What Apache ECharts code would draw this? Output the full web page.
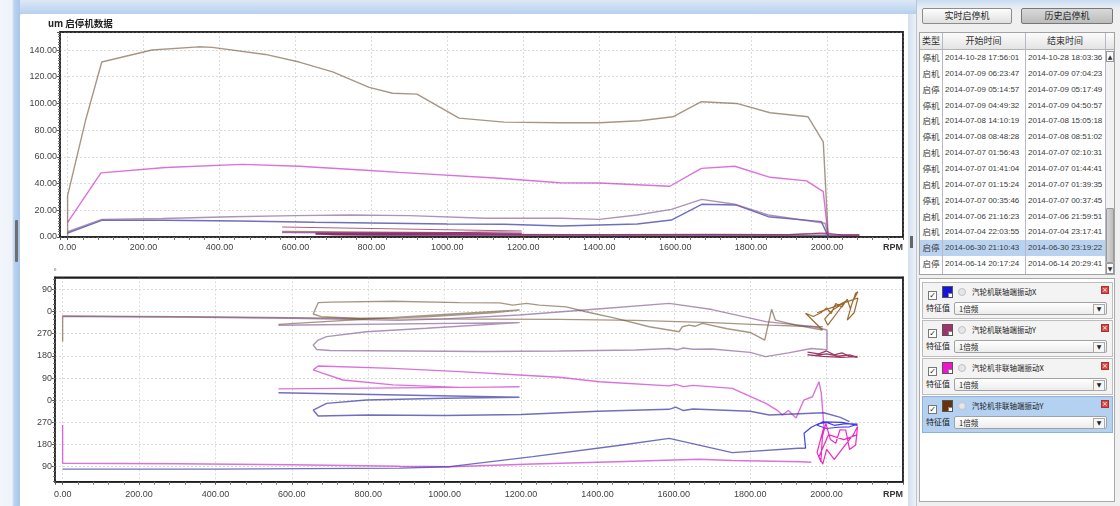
<!DOCTYPE html>
<html>
<head>
<meta charset="utf-8">
<script src="https://cdn.jsdelivr.net/npm/echarts@6/dist/echarts.min.js"></script>
<style>
  html, body { margin: 0; padding: 0; }
  body { width: 1120px; height: 506px; overflow: hidden; position: relative; background: #eaf1f9;
         font-family: "Noto Sans CJK SC", "Liberation Sans", sans-serif; color: #333; }
  .abs { position: absolute; box-sizing: border-box; }
  #topbar { left: 0; top: 0; width: 1120px; height: 14px; background: linear-gradient(#dce8f6, #b7d0ee); }
  #leftbar { left: 0; top: 0; width: 20px; height: 506px;
             background: linear-gradient(to right, #f2f6fb 0, #eef3fa 12px, #b9d2ef 14px, #a9c7ea 20px); }
  #lefthandle { left: 15px; top: 220px; width: 3px; height: 42px; background: #6f6f6f; border-radius: 1px; }
  #main { left: 20px; top: 14px; width: 888px; height: 492px; background: #fff; border-top-left-radius: 4px; }
  #chart { position: absolute; left: 0; top: 0; width: 888px; height: 492px; }
  #splitter { left: 908px; top: 14px; width: 8px; height: 492px; background: linear-gradient(to right, #d3e0ef, #edf2f8); }
  #splithandle { left: 910px; top: 236px; width: 3px; height: 12px; background: #666; }
  #side { left: 916px; top: 0; width: 204px; height: 506px; border-left: 1px solid #b9c6d6;
          background: linear-gradient(#c9dcf2 0, #e6ecf4 7px, #f0f0f0 12px, #f0f0f0 100%); }
  .btn { height: 16px; top: 8px; border: 1px solid #8c8c8c; border-radius: 2px; font-size: 9px; line-height: 14px;
         text-align: center; color: #222; }
  #tbl { left: 919px; top: 32px; width: 196px; height: 243px; border: 1px solid #a3a3a3; background: #fff; overflow: hidden; }
  .hd { top: 0; height: 17px; background: linear-gradient(#fbfbfb, #e4e4e4); border-bottom: 1px solid #b3b3b3;
        font-size: 9px; line-height: 16px; text-align: center; color: #333; }
  .cell { height: 15.85px; font-size: 8px; line-height: 15.85px; color: #3a3a3a; white-space: nowrap;
          font-family: "Liberation Sans", "Noto Sans CJK SC", sans-serif; }
  .ty { font-family: "Noto Sans CJK SC", sans-serif; font-size: 8.5px; text-align: center; }
  .vsep { top: 0; width: 1px; height: 243px; background: #b9b9c6; }
  #cards { left: 919px; top: 278px; width: 196px; height: 224px; border: 1px solid #a9a9a9; background: #fff; }
  .card { left: 2px; width: 191px; height: 37px; border: 1px solid #bdbdbd; background: #f3f3f3; }
  .card.sel { background: #b4d1f2; border-color: #8fb1d9; }
  .chk { left: 5px; top: 8px; width: 9px; height: 9px; border: 1px solid #777; background: #fff;
         font-size: 8px; line-height: 7px; text-align: center; color: #222; font-family: "DejaVu Sans", sans-serif; }
  .sw { left: 19px; top: 3px; width: 11px; height: 12px; border: 1px solid #555; }
  .sw i { position: absolute; right: 0; bottom: 0; width: 3px; height: 3px; background: #fff; border-left: 1px solid #888; border-top: 1px solid #888; }
  .gear { left: 35px; top: 5px; width: 8px; height: 8px; border-radius: 50%; border: 1.5px solid #c2c2c2; background: #e6e6e6; }
  .lbl { left: 49px; top: 3px; font-size: 7.5px; line-height: 12px; color: #222; white-space: nowrap; }
  .cls { right: 3px; top: 3px; width: 8px; height: 8px; background: #d8463f; border: 1px solid #a33; color: #fff;
         font-size: 7px; line-height: 6px; text-align: center; font-family: "DejaVu Sans", sans-serif; }
  .fk { left: 3px; top: 19px; font-size: 8px; line-height: 12px; color: #222; white-space: nowrap; }
  .dd { left: 31px; top: 19px; width: 153px; height: 13px; border: 1px solid #a2a2a2; border-radius: 2px;
        background: linear-gradient(#ffffff, #ececec); font-size: 7.5px; line-height: 11px; padding-left: 4px; color: #222; }
  .dd b { position: absolute; right: 1px; top: 1px; width: 10px; height: 9px; border: 1px solid #aaa; background: #f6f6f6;
          font-size: 6px; line-height: 8px; text-align: center; font-weight: normal; font-family: "DejaVu Sans", sans-serif; }
</style>
</head>
<body>
<div id="topbar" class="abs"></div>
<div id="leftbar" class="abs"></div>
<div id="lefthandle" class="abs"></div>
<div id="main" class="abs"><div id="chart"></div></div>
<div id="splitter" class="abs"></div>
<div id="splithandle" class="abs"></div>
<div id="side" class="abs"></div>
<div class="abs btn" style="left:922px;width:90px;background:linear-gradient(#fdfdfd,#e0e0e0);">实时启停机</div>
<div class="abs btn" style="left:1021px;width:92px;background:linear-gradient(#d9d9d9,#bcbcbc);border-color:#777;">历史启停机</div>
<div id="tbl" class="abs"></div>
<div id="cards" class="abs"></div>
<script>
// ---- event list ----
const eventTypes = ['停机', '启机', '启停', '停机', '启机', '停机', '启机', '停机', '启机', '停机', '启机', '启机', '启停', '启停'];
const eventStarts = ['2014-10-28 17:56:01', '2014-07-09 06:23:47', '2014-07-09 05:14:57', '2014-07-09 04:49:32',
  '2014-07-08 14:10:19', '2014-07-08 08:48:28', '2014-07-07 01:56:43', '2014-07-07 01:41:04', '2014-07-07 01:15:24',
  '2014-07-07 00:35:46', '2014-07-06 21:16:23', '2014-07-04 22:03:55', '2014-06-30 21:10:43', '2014-06-14 20:17:24'];
const eventEnds = ['2014-10-28 18:03:36', '2014-07-09 07:04:23', '2014-07-09 05:17:49', '2014-07-09 04:50:57',
  '2014-07-08 15:05:18', '2014-07-08 08:51:02', '2014-07-07 02:10:31', '2014-07-07 01:44:41', '2014-07-07 01:39:35',
  '2014-07-07 00:37:45', '2014-07-06 21:59:51', '2014-07-04 23:17:41', '2014-06-30 23:19:22', '2014-06-14 20:29:41'];
const selectedEvent = 12;

// ---- measuring channels ----
const channelNames = ['汽轮机联轴端振动X', '汽轮机联轴端振动Y', '汽轮机非联轴端振动X', '汽轮机非联轴端振动Y'];
const channelSwatch = ['#1414dc', '#a3326c', '#ee14d2', '#6b300c'];
const channelFeature = ['1倍频', '1倍频', '1倍频', '1倍频'];

// ---- amplitude (um) against speed (RPM) ----
const ampRunX = [[0,3],[90,12.5],[250,12.5],[450,12],[650,11],[800,10.5],[1000,9.7],[1150,9.5],[1300,8.2],[1500,9.7],[1590,12.7],[1670,24.5],[1760,24],[1845,15.2],[1985,11.5],[2003,0.5]];
const ampRunY = [[0,4],[90,13.2],[250,13.8],[433,15.2],[600,16],[741,16.5],[900,16],[1100,14],[1300,14],[1400,13.2],[1500,16.5],[1590,20.7],[1670,28.2],[1757,24.5],[1845,16.5],[1950,12.2],[1995,10.3],[2003,0.5]];
const ampRunNX = [[0,11],[88,48],[258,52],[460,54.4],[610,53],[785,50],[873,48.4],[1137,44],[1295,40.6],[1401,40.4],[1586,38],[1669,51.4],[1757,53],[1850,44.7],[1946,42],[1990,34],[2003,0.5]];
const ampRunNY = [[0,0.5],[0,31],[47,87],[90,131],[222,140],[345,142.4],[381,142],[521,136.7],[610,131],[698,123.7],[794,112],[856,107.6],[920,107],[1031,89],[1150,86],[1295,85.5],[1401,85.5],[1507,87],[1594,90],[1669,101.3],[1762,100],[1850,93],[1950,90],[1990,71.3],[2003,0.5]];
const ampLowX = [[565,3.5],[1196,2.8],[653,2.2],[800,1.2],[1500,1.2],[2085,1.2]];
const ampLowY = [[565,7.5],[1196,4.5],[1000,3.2],[800,3],[653,2.8],[700,2],[1000,2],[1400,1.8],[1700,2],[1900,1.8],[1960,2.5],[2000,3],[2040,1.5],[2085,1.5]];
const ampLowNX = [[565,3.2],[1196,2.5],[653,2],[900,1.5],[1900,1.8],[1980,3],[2010,2],[2085,1.8]];
const ampLowNY = [[565,4.2],[1196,3],[900,2.6],[653,2.5],[700,1.6],[1200,1.5],[1600,1.5],[2000,1.5],[2085,1.5]];

// ---- phase (deg, unwrapped) against speed (RPM) ----
const phaseTicks = [90, 0, -90, -180, -270, -360, -450, -540, -630];
const phRunX = [[0,-640],[400,-640],[882,-636],[1013,-630],[1231,-589],[1450,-545],[1588,-515],[1753,-573],[1926,-555],[1945,-555]];
const phRunY = [[0,-20],[300,-22],[600,-27],[882,-36],[1000,-30],[1196,-14],[1400,10],[1588,33],[1700,8],[1841,-41],[1968,-62],[2001,-75],[2001,-156]];
const phRunNX = [[0,-461],[0,-616],[300,-618],[600,-622],[882,-628],[1013,-630],[1231,-619],[1450,-610],[1666,-600],[1753,-605],[1934,-610],[1960,-612]];
const phRunNY = [[0,-122],[0,-18],[200,-20],[400,-22],[600,-25],[880,-30],[1100,-31],[1300,-32],[1500,-36],[1700,-45],[1850,-55],[1975,-62],[1990,-62]];
const phLowX = [[565,-330],[1196,-348],[1000,-352],[795,-359],[691,-373],[656,-400],[669,-424],[800,-420],[1000,-422],[1200,-418],[1400,-405],[1588,-397],[1605,-388],[1625,-402],[1650,-396],[1800,-405],[1850,-420],[1993,-411],[2036,-430],[2060,-447]];
const phLowY = [[565,-56],[1196,-45],[952,-68],[795,-82],[691,-102],[669,-116],[656,-136],[665,-154],[700,-158],[900,-160],[1100,-162],[1300,-160],[1500,-156],[1590,-150],[1610,-155],[1625,-148],[1650,-153],[1700,-152],[1800,-166],[1840,-183],[1900,-168],[1960,-150],[2000,-155]];
const phLowNX = [[565,-314],[1196,-306],[1039,-308],[865,-298],[734,-278],[680,-250],[656,-237],[669,-221],[865,-231],[1039,-244],[1196,-258],[1300,-267],[1405,-285],[1588,-302],[1605,-296],[1625,-305],[1650,-300],[1753,-312],[1841,-373],[1870,-400],[1884,-420],[1900,-402],[1920,-432],[1940,-360],[1963,-346],[1980,-285],[1986,-330],[1993,-467]];
const phLowNY = [[565,-52],[1196,6],[1126,-5],[952,-21],[778,-28],[677,-21],[656,-10],[669,36],[700,38],[865,42],[1039,36],[1144,35],[1179,26],[1214,33],[1248,26],[1318,19],[1370,-1],[1449,-28],[1536,-62],[1614,-82],[1622,-62],[1640,-55],[1655,-60],[1675,-48],[1740,-70],[1800,-85],[1838,-116],[1856,9],[1866,-35],[1920,-55],[1989,-75]];
const phEndX = [[1945,-555],[1941,-494],[1960,-470],[1980,-455],[2000,-450],[2020,-462],[2050,-455],[2081,-457],[2060,-468],[2030,-470],[2000,-475],[1975,-462],[1990,-448],[2040,-450],[2081,-462]];
const phEndY = [[1950,-165],[1980,-172],[2000,-160],[2020,-176],[2040,-168],[2060,-182],[2081,-186],[2060,-176],[2030,-181],[2000,-172],[1970,-178],[1950,-176],[1990,-182],[2040,-186],[2081,-182]];
const phEndNX = [[1993,-467],[1975,-573],[1985,-610],[1989,-508],[1998,-454],[2010,-520],[2024,-535],[2035,-480],[2050,-481],[2060,-560],[2076,-542],[2081,-467],[2070,-500],[2040,-560],[2020,-600],[2000,-560],[1990,-620],[1980,-590],[2005,-500],[2045,-520],[2081,-500]];
const phEndNY = [[1989,-75],[1945,-7],[1965,-20],[1985,-5],[2000,15],[2012,-8],[2024,33],[2040,18],[2054,50],[2062,12],[2076,74],[2082,80],[2068,40],[2054,-35],[2072,-5],[2082,55],[2045,35],[2015,5],[1995,-30],[2003,-55],[2025,-10],[2050,42],[2030,25],[1975,-5]];

// ---- side panel: event table ----
(function buildTable() {
  const t = document.getElementById('tbl');
  const cols = [[0, 22], [22, 83], [105, 80]];
  let h = '';
  h += '<div class="abs hd" style="left:0;width:194px"></div>';
  ['类型', '开始时间', '结束时间'].forEach((s, i) => {
    h += `<div class="abs hd" style="left:${cols[i][0]}px;width:${cols[i][1]}px;background:none;border:none">${s}</div>`;
  });
  eventTypes.forEach((ty, i) => {
    const top = 17 + i * 15.85;
    if (i === selectedEvent) h += `<div class="abs" style="left:0;top:${top}px;width:185px;height:15.85px;background:#b9d2f0"></div>`;
    h += `<div class="abs cell ty" style="left:0;top:${top}px;width:22px">${ty}</div>`;
    h += `<div class="abs cell" style="left:25px;top:${top}px">${eventStarts[i]}</div>`;
    h += `<div class="abs cell" style="left:108px;top:${top}px">${eventEnds[i]}</div>`;
  });
  [22, 105, 185].forEach(x => { h += `<div class="abs vsep" style="left:${x}px"></div>`; });
  // scroll bar
  h += '<div class="abs" style="left:186px;top:17px;width:8px;height:226px;background:#f2f2f2"></div>';
  h += '<div class="abs" style="left:186px;top:18px;width:8px;height:11px;border:1px solid #999;background:#fafafa;font-size:6px;line-height:9px;text-align:center;font-family:DejaVu Sans">▲</div>';
  h += '<div class="abs" style="left:186px;top:175px;width:8px;height:55px;border:1px solid #999;border-radius:1px;background:linear-gradient(to right,#d4d4d4,#bdbdbd)"></div>';
  h += '<div class="abs" style="left:186px;top:230px;width:8px;height:11px;border:1px solid #999;background:#fafafa;font-size:6px;line-height:9px;text-align:center;font-family:DejaVu Sans">▼</div>';
  t.innerHTML = h;
})();

// ---- side panel: channel cards ----
(function buildCards() {
  const c = document.getElementById('cards');
  const tops = [3, 41, 78.5, 117];
  let h = '';
  channelNames.forEach((n, i) => {
    h += `<div class="abs card${i === 3 ? ' sel' : ''}" style="top:${tops[i]}px">` +
      '<div class="abs chk">✓</div>' +
      `<div class="abs sw" style="background:${channelSwatch[i]}"><i></i></div>` +
      '<div class="abs gear"></div>' +
      `<div class="abs lbl">${n}</div>` +
      '<div class="abs cls">×</div>' +
      '<div class="abs fk">特征值</div>' +
      `<div class="abs dd">${channelFeature[i]}<b>▼</b></div>` +
      '</div>';
  });
  c.innerHTML = h;
})();

// ---- charts ----
const chart = echarts.init(document.getElementById('chart'), null, { renderer: 'canvas' });

const C = {
  x:  'rgba(55,55,165,0.72)',   xv:  'rgba(30,30,225,0.85)',
  y:  'rgba(135,95,150,0.68)',  yv:  'rgba(135,25,75,0.85)',
  nx: 'rgba(200,40,200,0.66)',  nxv: 'rgba(235,20,190,0.9)',
  ny: 'rgba(110,80,50,0.6)',    nyv: 'rgba(145,90,25,0.9)'
};

function trace(data, color, gi, w) {
  return {
    type: 'line', xAxisIndex: gi, yAxisIndex: gi, data: data, symbol: 'none', showSymbol: false,
    silent: true, animation: false, lineStyle: { color: color, width: w || 1.4 }, itemStyle: { color: color }
  };
}

const labelFont = { fontSize: 9, color: '#444', fontFamily: 'Liberation Sans, sans-serif' };
const frameLine = { show: true, onZero: false, lineStyle: { color: '#1e1e1e', width: 1.5 } };

function rpmAxis(gi) {
  return {
    type: 'value', gridIndex: gi, min: -20, max: 2200, splitNumber: 11,
    axisLine: frameLine,
    axisTick: { show: true, length: 3, lineStyle: { color: '#555' } },
    minorTick: { show: true, splitNumber: 5, length: 3, lineStyle: { color: '#777' } },
    axisLabel: Object.assign({
      margin: gi === 0 ? 6 : 8, showMinLabel: false, showMaxLabel: true,
      formatter: v => (v >= 2200 ? '{r|RPM}' : v.toFixed(2)),
      rich: { r: { fontSize: 9, fontWeight: 'bold', color: '#333', padding: [0, 20, 0, 0], fontFamily: 'Liberation Sans, sans-serif' } }
    }, labelFont),
    splitLine: { show: true, lineStyle: { color: '#dcdcdc', type: [2, 2] } }
  };
}

// plain solid edge along the top / right of a plot frame
function edgeX(gi, min, max) {
  return { type: 'value', gridIndex: gi, position: 'top', min: min, max: max, axisLine: frameLine,
           axisTick: { show: false }, axisLabel: { show: false }, splitLine: { show: false } };
}
function edgeY(gi, min, max) {
  return { type: 'value', gridIndex: gi, position: 'right', min: min, max: max, axisLine: frameLine,
           axisTick: { show: false }, axisLabel: { show: false }, splitLine: { show: false } };
}

chart.setOption({
  animation: false,
  title: {
    text: 'um 启停机数据', left: 28, top: 5, padding: 0,
    textStyle: { fontSize: 9.5, fontWeight: 'bold', color: '#222', fontFamily: 'Noto Sans CJK SC, sans-serif' }
  },
  grid: [
    { left: 40, top: 18, width: 843, height: 205, show: true, borderColor: '#1e1e1e', borderWidth: 1.5, backgroundColor: '#fff', containLabel: false },
    { left: 35, top: 263.3, width: 848, height: 204.4, show: true, borderColor: '#1e1e1e', borderWidth: 1.5, backgroundColor: '#fff', containLabel: false }
  ],
  xAxis: [rpmAxis(0), rpmAxis(1), edgeX(0, -20, 2200), edgeX(1, -20, 2200)],
  yAxis: [
    {
      type: 'value', gridIndex: 0, min: 0, max: 153.5, splitNumber: 8,
      axisLine: frameLine,
      axisTick: { show: true, length: 3, lineStyle: { color: '#555' } },
      minorTick: { show: true, splitNumber: 10, length: 2, lineStyle: { color: '#777' } },
      axisLabel: Object.assign({ margin: 3, showMaxLabel: false, formatter: v => v.toFixed(2) }, labelFont),
      splitLine: { show: true, lineStyle: { color: '#dcdcdc', type: [2, 2] } }
    },
    {
      type: 'value', gridIndex: 1, min: -691, max: 139, splitNumber: 40,
      name: '°', nameGap: 2, nameTextStyle: { fontSize: 8, color: '#555' },
      axisLine: frameLine,
      axisTick: { show: true, length: 3, customValues: phaseTicks, lineStyle: { color: '#555' } },
      minorTick: { show: true, splitNumber: 2, length: 2, lineStyle: { color: '#777' } },
      axisLabel: Object.assign({ margin: 3, customValues: phaseTicks, formatter: v => String(((Math.round(v) % 360) + 360) % 360) }, labelFont),
      splitLine: { show: true, lineStyle: { color: '#dcdcdc', type: [2, 2] } }
    },
    edgeY(0, 0, 153.5), edgeY(1, -691, 139)
  ],
  series: [
    // amplitude
    trace(ampLowNY, 'rgba(110,70,40,0.6)', 0, 1.2), trace(ampLowX, 'rgba(60,40,150,0.55)', 0, 1.2),
    trace(ampLowNX, 'rgba(200,40,150,0.55)', 0, 1.2), trace(ampLowY, 'rgba(140,30,70,0.7)', 0, 1.2),
    trace(ampRunX, C.x, 0), trace(ampRunY, C.y, 0), trace(ampRunNX, C.nx, 0), trace(ampRunNY, C.ny, 0),
    // phase
    trace(phRunNY, C.ny, 1), trace(phRunY, C.y, 1), trace(phRunNX, C.nx, 1), trace(phRunX, C.x, 1),
    trace(phLowNY, C.ny, 1), trace(phLowY, C.y, 1), trace(phLowNX, C.nx, 1), trace(phLowX, C.x, 1),
    trace(phEndNY, C.nyv, 1, 1.2), trace(phEndY, C.yv, 1, 1.2), trace(phEndX, C.xv, 1, 1.2), trace(phEndNX, C.nxv, 1, 1.2)
  ]
});
</script>
</body>
</html>
